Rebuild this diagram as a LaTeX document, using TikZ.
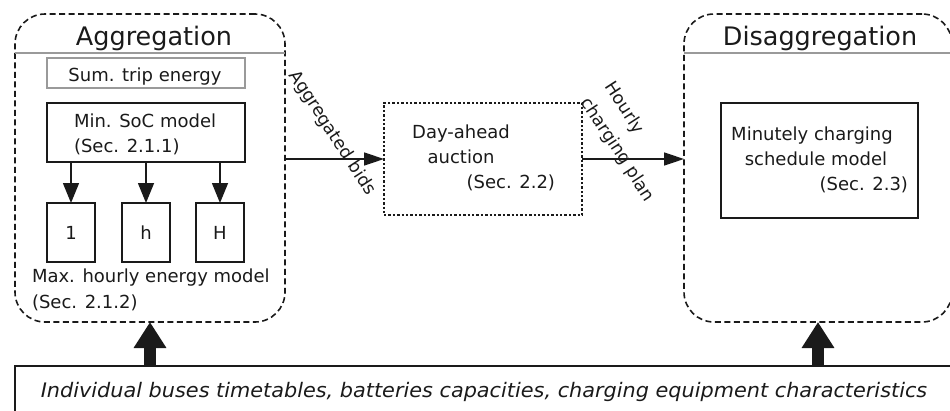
\documentclass[tikz,border=0pt]{standalone}
\usepackage{fontspec}
\setmainfont{DejaVu Sans}
\usetikzlibrary{arrows.meta}
\definecolor{ink}{HTML}{1A1A1A}
\definecolor{sepgray}{HTML}{9A9A9A}
\begin{document}
\begin{tikzpicture}[x=1pt,y=-1pt,
  every node/.style={text=ink, inner sep=0pt, outer sep=0pt},
  panel/.style={draw=ink, line width=1.6pt, dash pattern=on 6pt off 3.5pt, rounded corners=30pt},
  box/.style={draw=ink, line width=1.5pt},
  dotbox/.style={draw=ink, line width=2.6pt, dash pattern=on 2.4pt off 2pt},
  body/.style={font=\fontsize{18}{22}\selectfont},
  rotlbl/.style={font=\fontsize{17.5}{28}\selectfont, rotate=-57},
  ttl/.style={font=\fontsize{25.5}{30}\selectfont},
  flow/.style={draw=ink, line width=1.5pt, -{Triangle[length=20pt,width=13pt]}},
  down/.style={draw=ink, line width=1.5pt, -{Triangle[length=20pt,width=16pt]}},
  big/.style={draw=ink, line width=12pt, -{Triangle[length=26pt,width=31pt]}},
]
\useasboundingbox (0,0) rectangle (950,410);

% panels
\node[panel, minimum width=270pt, minimum height=308pt] (agg) at (150,168) {};
\node[panel, minimum width=268pt, minimum height=308pt] (dis) at (818,168) {};
\coordinate (sepline) at (0,53);
\draw[sepgray, line width=1.3pt] (agg.west |- sepline) -- (agg.east |- sepline);
\draw[sepgray, line width=1.3pt] (dis.west |- sepline) -- (dis.east |- sepline);
\node[ttl, anchor=base] (aggt) at (154,45) {Aggregation};
\node[ttl, anchor=base] (dist) at (820,45) {Disaggregation};

% aggregation content
\node[draw=sepgray, line width=1.3pt, minimum width=198pt, minimum height=30pt] (sum) at (146,73) {};
\node[body, anchor=base] (sumt) at (145,81) {Sum. trip energy};
\node[box, minimum width=198pt, minimum height=59pt] (minsoc) at (146,132.5) {};
\node[body, anchor=base west] (minsoct) at (74,127) {Min. SoC model};
\node[body, anchor=base west] (minsocs) at (74,152) {(Sec. 2.1.1)};
\node[box, body, minimum width=48pt, minimum height=59pt] (b1) at (71,232.5) {1};
\node[box, body, minimum width=48pt, minimum height=59pt] (bh) at (146,232.5) {h};
\node[box, body, minimum width=48pt, minimum height=59pt] (bH) at (220,232.5) {H};
\draw[down] (b1 |- minsoc.south) -- (b1.north);
\draw[down] (bh |- minsoc.south) -- (bh.north);
\draw[down] (bH |- minsoc.south) -- (bH.north);
\node[body, anchor=base west] (maxt) at (32,282) {Max. hourly energy model};
\node[body, anchor=base west] (maxs) at (32,308) {(Sec. 2.1.2)};

% day-ahead
\node[dotbox, minimum width=198pt, minimum height=112pt] (dah) at (483,159) {};
\node[body, anchor=base] (daht1) at (461,138) {Day-ahead};
\node[body, anchor=base] (daht2) at (461,163) {auction};
\node[body, anchor=base east] (daht3) at (555,188) {(Sec. 2.2)};
\draw[flow] (agg.east |- dah.west) -- (dah.west);
\draw[flow] (dah.east) -- (dis.west |- dah.east);
\node[rotlbl] (bidlbl) at (332,133) {Aggregated bids};
\node[rotlbl, align=left] (planlbl) at (629,142) {Hourly\\charging plan};

% disaggregation content
\node[box, minimum width=197pt, minimum height=115pt] (mcs) at (819.5,160.5) {};
\node[body, anchor=base] (mcst1) at (812,140) {Minutely charging};
\node[body, anchor=base] (mcst2) at (816,165) {schedule model};
\node[body, anchor=base east] (mcst3) at (908,190) {(Sec. 2.3)};

% inputs
\node[draw=ink, line width=1.8pt, minimum width=960pt, minimum height=60pt] (inp) at (495,396) {};
\node[font=\fontsize{20}{24}\selectfont\itshape, anchor=base, xscale=1.04] (inpt) at (484,397) {Individual buses timetables, batteries capacities, charging equipment characteristics};
\draw[big] (agg.south |- inp.north) -- (agg.south);
\draw[big] (dis.south |- inp.north) -- (dis.south);
\end{tikzpicture}
\end{document}
